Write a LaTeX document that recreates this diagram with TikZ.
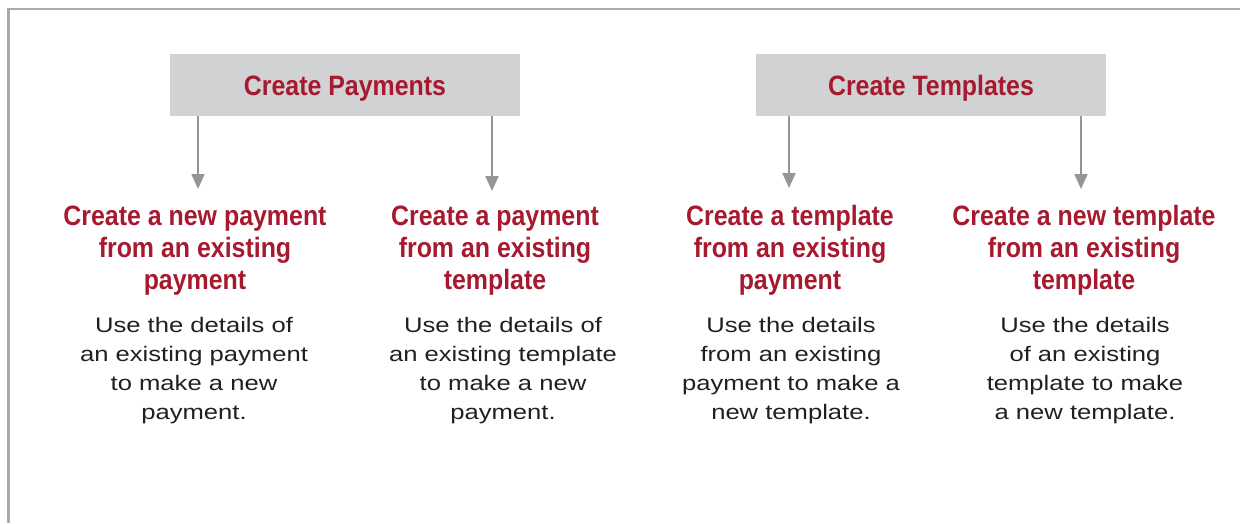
\documentclass[tikz,border=0pt]{standalone}
\usepackage{fontspec}
\setmainfont{Liberation Sans}
\newfontfamily\headfont[FakeStretch=0.89]{Liberation Sans}
\newfontfamily\bodyfont[FakeStretch=1.22]{Liberation Sans}
\usetikzlibrary{arrows.meta}
\definecolor{framegray}{HTML}{A9AAAD}
\definecolor{boxgray}{HTML}{D1D2D4}
\definecolor{arrowgray}{HTML}{939598}
\definecolor{brandred}{HTML}{A6192E}
\definecolor{bodyink}{HTML}{231F20}
\tikzset{
  groupbox/.style={fill=boxgray, draw=none, inner sep=0pt,
    minimum width=350pt, minimum height=62pt,
    text height=20pt, text depth=0pt, text=brandred,
    font=\headfont\bfseries\fontsize{28}{32}\selectfont},
  % multi-line nodes: the base anchor sits on the last line's baseline
  optiontitle/.style={anchor=base, align=center, inner sep=0pt, text=brandred,
    font=\headfont\bfseries\fontsize{28}{32}\selectfont},
  optionbody/.style={anchor=base, align=center, inner sep=0pt, text=bodyink,
    font=\bodyfont\fontsize{21}{29}\selectfont},
  down/.style={draw=arrowgray, line width=2pt,
    -{Triangle[width=13pt,length=15pt]}},
}
\begin{document}
\begin{tikzpicture}[x=1pt, y=-1pt]
\useasboundingbox (0,0) rectangle (1240,523);
% open frame: top and left rules
\draw[framegray, line width=2.5pt] (1240,9) -- (8.5,9) -- (8.5,523);

% group headers
\node[groupbox] (pay) at (345,85) {Create Payments};
\node[groupbox] (tpl) at (931,85) {Create Templates};

% arrow ends
\coordinate (e1) at (198,189);
\coordinate (e2) at (492,191);
\coordinate (e3) at (789,188);
\coordinate (e4) at (1081,189);

\draw[down] (pay.south -| e1) -- (e1);
\draw[down] (pay.south -| e2) -- (e2);
\draw[down] (tpl.south -| e3) -- (e3);
\draw[down] (tpl.south -| e4) -- (e4);

% option titles
\node[optiontitle] (t1) at (195,289) {Create a new payment\\from an existing\\payment};
\node[optiontitle] (t2) at (495,289) {Create a payment\\from an existing\\template};
\node[optiontitle] (t3) at (790,289) {Create a template\\from an existing\\payment};
\node[optiontitle] (t4) at (1084,289) {Create a new template\\from an existing\\template};

% option descriptions
\node[optionbody] (b1) at (194,419) {Use the details of\\an existing payment\\to make a new\\payment.};
\node[optionbody] (b2) at (503,419) {Use the details of\\an existing template\\to make a new\\payment.};
\node[optionbody] (b3) at (791,419) {Use the details\\from an existing\\payment to make a\\new template.};
\node[optionbody] (b4) at (1085,419) {Use the details\\of an existing\\template to make\\a new template.};
\end{tikzpicture}
\end{document}
